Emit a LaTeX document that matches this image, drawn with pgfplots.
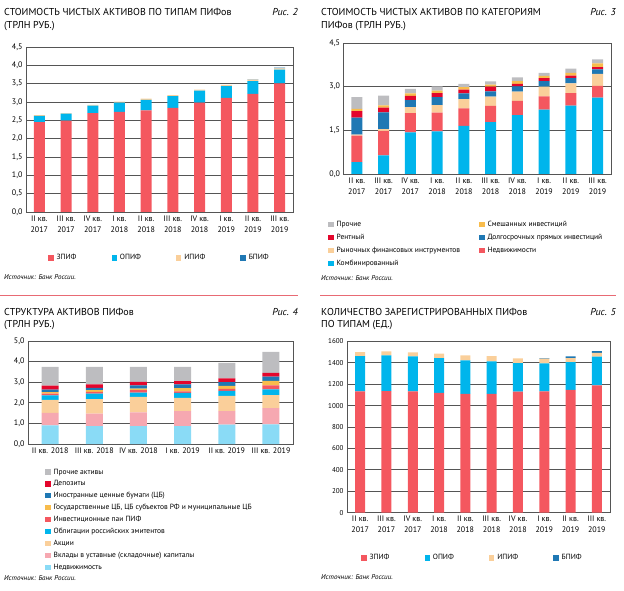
\documentclass[border=0pt]{standalone}
\usepackage{pgfplots}
\pgfplotsset{compat=1.18}
\usepackage{pgfplotstable}
\usepackage{fontspec}
\setmainfont{PT Sans}

\definecolor{cRed}{HTML}{F4575F}
\definecolor{cBlue}{HTML}{00B5EC}
\definecolor{cPeach}{HTML}{FACF9A}
\definecolor{cDark}{HTML}{1F78B4}
\definecolor{cCrim}{HTML}{E3062C}
\definecolor{cGray}{HTML}{BDBDC0}
\definecolor{cYel}{HTML}{F8BC4C}
\definecolor{cSky}{HTML}{8ADBF6}
\definecolor{cPink}{HTML}{F6A8B1}
\definecolor{cGrid}{HTML}{555555}
\definecolor{cLine}{HTML}{E86A74}

\pgfplotstableread{
x zpif opif ipif bpif
0 2.45 0.17 0.02 0.00
1 2.49 0.19 0.02 0.00
2 2.70 0.20 0.02 0.00
3 2.73 0.25 0.03 0.00
4 2.77 0.29 0.03 0.00
5 2.84 0.32 0.03 0.00
6 2.98 0.33 0.03 0.00
7 3.11 0.32 0.04 0.00
8 3.22 0.35 0.04 0.01
9 3.51 0.37 0.04 0.02
}\tabA

\pgfplotstableread{
x komb nedv ryn dolg rent smesh proch
0 0.41 0.91 0.03 0.59 0.22 0.08 0.40
1 0.64 0.84 0.06 0.58 0.16 0.08 0.33
2 1.43 0.66 0.21 0.24 0.14 0.09 0.15
3 1.46 0.65 0.26 0.27 0.14 0.08 0.15
4 1.65 0.60 0.32 0.20 0.13 0.08 0.12
5 1.78 0.56 0.32 0.18 0.16 0.07 0.11
6 2.02 0.49 0.32 0.18 0.09 0.09 0.13
7 2.21 0.46 0.33 0.19 0.10 0.08 0.10
8 2.35 0.43 0.33 0.18 0.09 0.09 0.15
9 2.62 0.41 0.41 0.15 0.08 0.13 0.14
}\tabB

\pgfplotstableread{
x nedv vkl akc obl pai gos inos dep proch
0 0.91 0.60 0.63 0.22 0.08 0.08 0.12 0.19 0.91
1 0.87 0.61 0.70 0.27 0.08 0.08 0.12 0.17 0.84
2 0.87 0.66 0.76 0.21 0.11 0.08 0.16 0.17 0.72
3 0.87 0.73 0.64 0.24 0.08 0.15 0.18 0.16 0.69
4 0.94 0.66 0.74 0.24 0.10 0.14 0.18 0.18 0.76
5 0.95 0.79 0.63 0.28 0.20 0.21 0.21 0.18 1.02
}\tabC

\pgfplotstableread{
x zpif opif ipif bpif
0 1133 329 37 0
1 1136 332 37 0
2 1133 326 37 0
3 1118 325 41 0
4 1109 313 46 0
5 1109 303 50 0
6 1130 267 43 0
7 1133 261 45 5
8 1146 260 37 16
9 1189 267 37 15
}\tabD

\pgfplotsset{
  base/.style={
    scale only axis, ybar stacked,
    axis line style={cGrid, line width=0.9pt},
    ymajorgrids, grid style={cGrid, line width=0.9pt},
    major tick length=0pt,
    tick label style={font=\fontsize{8}{11}\selectfont},
    xticklabel style={align=center},
    /pgf/number format/assume math mode=true,
    legend style={draw=none, fill=none, font=\fontsize{7.5}{9}\selectfont,
      /tikz/every odd column/.append style={column sep=1pt}},
    legend cell align=left,
    legend image code/.code={\fill[##1] (0pt,-2.6pt) rectangle (5.4pt,2.8pt);},
    every axis plot/.append style={draw=none},
  },
  dec/.style={
    /pgf/number format/fixed,
    /pgf/number format/fixed zerofill,
    /pgf/number format/precision=1,
    /pgf/number format/use comma},
}

\begin{document}
\begin{tikzpicture}
\path[use as bounding box] (0pt,0pt) rectangle (624pt,590pt);

% ---------- titles ----------
\begin{scope}[every node/.style={inner sep=0pt, font=\fontsize{10}{12}\selectfont}]
\node[anchor=base west] at (4pt,574.3pt) {СТОИМОСТЬ ЧИСТЫХ АКТИВОВ ПО ТИПАМ ПИФов};
\node[anchor=base west] at (4pt,561.7pt) {(ТРЛН РУБ.)};
\node[anchor=base east] at (298pt,574.3pt) {\itshape Рис. 2};
\node[anchor=base west] at (321pt,574.3pt) {СТОИМОСТЬ ЧИСТЫХ АКТИВОВ ПО КАТЕГОРИЯМ};
\node[anchor=base west] at (321pt,561.7pt) {ПИФов (ТРЛН РУБ.)};
\node[anchor=base east] at (616pt,574.3pt) {\itshape Рис. 3};
\node[anchor=base west] at (4pt,275pt) {СТРУКТУРА АКТИВОВ ПИФов};
\node[anchor=base west] at (4pt,262pt) {(ТРЛН РУБ.)};
\node[anchor=base east] at (298pt,275pt) {\itshape Рис. 4};
\node[anchor=base west] at (321pt,275pt) {КОЛИЧЕСТВО ЗАРЕГИСТРИРОВАННЫХ ПИФов};
\node[anchor=base west] at (321pt,262pt) {ПО ТИПАМ (ЕД.)};
\node[anchor=base east] at (616pt,275pt) {\itshape Рис. 5};
\end{scope}
\begin{scope}[every node/.style={inner sep=0pt, font=\fontsize{7}{8}\selectfont\itshape}]
\node[anchor=base west] at (4pt,310pt) {Источник: Банк России.};
\node[anchor=base west] at (321pt,309.5pt) {Источник: Банк России.};
\node[anchor=base west] at (4pt,10pt) {Источник: Банк России.};
\node[anchor=base west] at (321pt,10.5pt) {Источник: Банк России.};
\end{scope}
\draw[cLine, line width=0.9pt] (0pt,295pt) -- (298pt,295pt);
\draw[cLine, line width=0.9pt] (320pt,295pt) -- (616pt,295pt);

% ---------- Fig 2 ----------
\begin{axis}[base, dec, at={(26pt,378pt)}, anchor=south west,
  width=267pt, height=165pt, bar width=11pt,
  xmin=-0.5, xmax=9.5, ymin=0, ymax=4.5, ytick={0,0.5,...,4.5},
  xtick={0,...,9},
  xticklabels={{II кв.\\2017},{III кв.\\2017},{IV кв.\\2017},{I кв.\\2018},{II кв.\\2018},{III кв.\\2018},{IV кв.\\2018},{I кв.\\2019},{II кв.\\2019},{III кв.\\2019}},
  legend columns=4,
  legend style={at={(0.50,-0.279)}, anchor=center,
    /tikz/every even column/.append style={column sep=33pt}}]
\addplot[fill=cRed] table[x=x,y=zpif]{\tabA};
\addplot[fill=cBlue] table[x=x,y=opif]{\tabA};
\addplot[fill=cPeach] table[x=x,y=ipif]{\tabA};
\addplot[fill=cDark] table[x=x,y=bpif]{\tabA};
\legend{ЗПИФ,ОПИФ,ИПИФ,БПИФ}
\end{axis}

% ---------- Fig 3 ----------
\begin{axis}[base, dec, at={(343.5pt,416pt)}, anchor=south west,
  width=267.5pt, height=131pt, bar width=11pt,
  xmin=-0.5, xmax=9.5, ymin=0, ymax=4.5, ytick={0,1.5,3,4.5},
  xtick={0,...,9},
  xticklabels={{II кв.\\2017},{III кв.\\2017},{IV кв.\\2017},{I кв.\\2018},{II кв.\\2018},{III кв.\\2018},{IV кв.\\2018},{I кв.\\2019},{II кв.\\2019},{III кв.\\2019}},
  legend columns=2, reverse legend,
  legend style={at={(-0.069,-0.33)}, anchor=north west, row sep=2pt,
    /tikz/every even column/.append style={column sep=17pt}}]
\addplot[fill=cBlue] table[x=x,y=komb]{\tabB};
\addplot[fill=cRed] table[x=x,y=nedv]{\tabB};
\addplot[fill=cPeach] table[x=x,y=ryn]{\tabB};
\addplot[fill=cDark] table[x=x,y=dolg]{\tabB};
\addplot[fill=cCrim] table[x=x,y=rent]{\tabB};
\addplot[fill=cYel] table[x=x,y=smesh]{\tabB};
\addplot[fill=cGray] table[x=x,y=proch]{\tabB};
\legend{Комбинированный,Недвижимости,Рыночных финансовых инструментов,Долгосрочных прямых инвестиций,Рентный,Смешанных инвестиций,Прочие}
\end{axis}

% ---------- Fig 4 ----------
\begin{axis}[base, dec, at={(28pt,146pt)}, anchor=south west,
  width=265pt, height=103pt, bar width=17pt,
  xmin=-0.5, xmax=5.5, ymin=0, ymax=5, ytick={0,1,...,5},
  xtick={0,...,5}, xticklabels={II кв. 2018,III кв. 2018,IV кв. 2018,I кв. 2019,II кв. 2019,III кв. 2019},
  legend columns=1, reverse legend,
  legend style={at={(0.053,-0.20)}, anchor=north west, row sep=1.05pt}]
\addplot[fill=cSky] table[x=x,y=nedv]{\tabC};
\addplot[fill=cPink] table[x=x,y=vkl]{\tabC};
\addplot[fill=cPeach] table[x=x,y=akc]{\tabC};
\addplot[fill=cBlue] table[x=x,y=obl]{\tabC};
\addplot[fill=cRed] table[x=x,y=pai]{\tabC};
\addplot[fill=cYel] table[x=x,y=gos]{\tabC};
\addplot[fill=cDark] table[x=x,y=inos]{\tabC};
\addplot[fill=cCrim] table[x=x,y=dep]{\tabC};
\addplot[fill=cGray] table[x=x,y=proch]{\tabC};
\legend{Недвижимость,Вклады в уставные (складочные) капиталы,Акции,Облигации российских эмитентов,Инвестиционные паи ПИФ,{Государственные ЦБ, ЦБ субъектов РФ и муниципальные ЦБ},Иностранные ценные бумаги (ЦБ),Депозиты,Прочие активы}
\end{axis}

% ---------- Fig 5 ----------
\begin{axis}[base, at={(347pt,77.3pt)}, anchor=south west,
  width=263pt, height=171.4pt, bar width=10pt,
  xmin=-0.5, xmax=9.5, ymin=0, ymax=1600, ytick={0,200,...,1600},
  yticklabel style={font=\fontsize{7}{9}\selectfont},
  /pgf/number format/fixed, /pgf/number format/1000 sep={},
  xtick={0,...,9},
  xticklabels={{II кв.\\2017},{III кв.\\2017},{IV кв.\\2017},{I кв.\\2018},{II кв.\\2018},{III кв.\\2018},{IV кв.\\2018},{I кв.\\2019},{II кв.\\2019},{III кв.\\2019}},
  legend columns=4,
  legend style={at={(0.477,-0.264)}, anchor=center,
    /tikz/every even column/.append style={column sep=33pt}}]
\addplot[fill=cRed] table[x=x,y=zpif]{\tabD};
\addplot[fill=cBlue] table[x=x,y=opif]{\tabD};
\addplot[fill=cPeach] table[x=x,y=ipif]{\tabD};
\addplot[fill=cDark] table[x=x,y=bpif]{\tabD};
\legend{ЗПИФ,ОПИФ,ИПИФ,БПИФ}
\end{axis}
\end{tikzpicture}
\end{document}
